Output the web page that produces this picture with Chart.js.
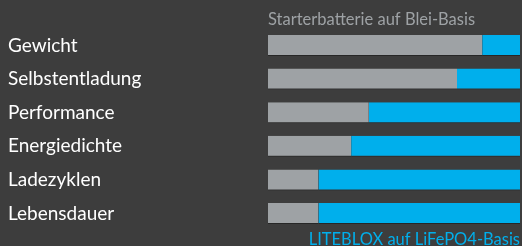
<!DOCTYPE html>
<html>
<head>
<meta charset="utf-8">
<script src="https://cdn.jsdelivr.net/npm/chart.js@4"></script>
<style>
    html, body { margin: 0; padding: 0; background: #3d3d3d; }
    #wrap { width: 522px; height: 246px; }
</style>
</head>
<body>
<div id="wrap"><canvas id="compareChart" width="522" height="246"></canvas></div>
<script>
// categories + values (percent of bar width)
const categories = ['Gewicht', 'Selbstentladung', 'Performance', 'Energiedichte', 'Ladezyklen', 'Lebensdauer'];
const bleiValues = [85, 75, 40, 33, 20, 20];
const litebloxValues = [15, 25, 60, 67, 80, 80];
const seriesNames = ['Starterbatterie auf Blei-Basis', 'LITEBLOX auf LiFePO4-Basis'];

const greyColor = '#9ea2a5';
const blueColor = '#00afec';

document.addEventListener('DOMContentLoaded', function() {
    renderCompareChart();
});

function renderCompareChart() {
    const ctx = document.getElementById('compareChart').getContext('2d');

    new Chart(ctx, {
        type: 'bar',
        data: {
            labels: categories,
            datasets: [{
                    label: seriesNames[0],
                    data: bleiValues,
                    backgroundColor: greyColor,
                    borderColor: 'rgba(0,0,0,0.35)',
                    borderWidth: { top: 0, right: 0, bottom: 1, left: 0 },
                    borderSkipped: false
                },
                {
                    label: seriesNames[1],
                    data: litebloxValues,
                    backgroundColor: blueColor,
                    borderColor: 'rgba(0,0,0,0.35)',
                    borderWidth: { top: 0, right: 0, bottom: 1, left: 0 },
                    borderSkipped: false
                }
            ]
        },
        options: {
            indexAxis: 'y',
            responsive: false,
            animation: false,
            layout: {
                padding: { left: 8, right: 2, top: 0, bottom: 0 }
            },
            plugins: {
                legend: { display: false },
                tooltip: { enabled: false }
            },
            datasets: {
                bar: {
                    barPercentage: 0.625,
                    categoryPercentage: 1
                }
            },
            scales: {
                x: {
                    stacked: true,
                    min: 0,
                    max: 100,
                    position: 'bottom',
                    ticks: { display: false },
                    grid: { display: false },
                    border: { display: false },
                    title: {
                        display: true,
                        text: seriesNames[1],
                        align: 'end',
                        color: blueColor,
                        font: { family: 'Lato', size: 16.5, lineHeight: 0.8 },
                        padding: 0
                    },
                    afterFit: function(scale) { scale.height = 15.7; }
                },
                x2: {
                    min: 0,
                    max: 100,
                    position: 'top',
                    ticks: { display: false },
                    grid: { display: false },
                    border: { display: false },
                    title: {
                        display: true,
                        text: seriesNames[0],
                        align: 'start',
                        color: greyColor,
                        font: { family: 'Lato', size: 16.5, lineHeight: 1.2 },
                        padding: { top: 10, bottom: 0 }
                    },
                    afterFit: function(scale) { scale.height = 28.7; }
                },
                y: {
                    stacked: true,
                    grid: { display: false },
                    border: { display: false },
                    ticks: {
                        crossAlign: 'far',
                        color: '#ffffff',
                        padding: 0,
                        font: { family: 'Lato', size: 19 }
                    },
                    afterFit: function(scale) { scale.width = 260; }
                }
            }
        }
    });
}
</script>
</body>
</html>
